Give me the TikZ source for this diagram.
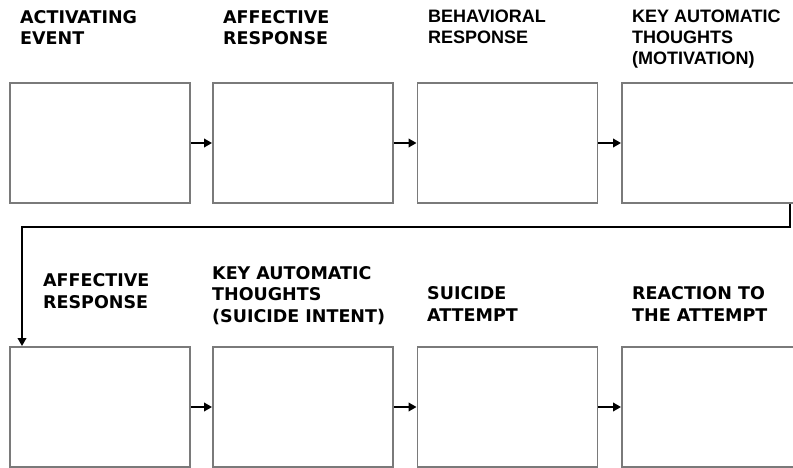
\documentclass[tikz,border=0pt]{standalone}
\usepackage{fontspec}
\newfontfamily\dejavu{DejaVu Sans}
\newfontfamily\libsans{Liberation Sans}
\usetikzlibrary{arrows.meta}
\begin{document}
\begin{tikzpicture}[x=1pt,y=-1pt,
  stagebox/.style={draw=black!52, line width=1.9pt, minimum width=180pt, minimum height=120pt, inner sep=0pt, fill=white},
  arr/.style={line width=2.6pt, -{Triangle[length=8pt,width=8.5pt]}},
  lbl/.style={anchor=base west, align=left, inner sep=0pt},
  tfont/.style={font=\dejavu\bfseries\fontsize{17.5}{21.5}\selectfont},
  afont/.style={font=\libsans\bfseries\fontsize{18}{21}\selectfont}]
\useasboundingbox[fill=white] (0,0) rectangle (793,468);
% top row boxes
\node[stagebox] (b1) at (100,143) {};
\node[stagebox] (b2) at (303,143) {};
\node[stagebox] (b3) at (507.5,143) {};
\node[stagebox] (b4) at (712,143) {};
% bottom row boxes
\node[stagebox] (b5) at (100,407) {};
\node[stagebox] (b6) at (303,407) {};
\node[stagebox] (b7) at (507.5,407) {};
\node[stagebox] (b8) at (712,407) {};
% labels (anchored at the baseline of the last line)
\node[lbl,tfont] (l1) at (20,45) {ACTIVATING\\EVENT};
\node[lbl,tfont] (l2) at (223,45) {AFFECTIVE\\RESPONSE};
\node[lbl,afont] (l3) at (428,44) {BEHAVIORAL\\RESPONSE};
\node[lbl,afont] (l4) at (632,65) {KEY AUTOMATIC\\THOUGHTS\\(MOTIVATION)};
\node[lbl,tfont] (l5) at (43,308) {AFFECTIVE\\RESPONSE};
\node[lbl,tfont] (l6) at (212,322) {KEY AUTOMATIC\\THOUGHTS\\(SUICIDE INTENT)};
\node[lbl,tfont] (l7) at (427,321) {SUICIDE\\ATTEMPT};
\node[lbl,tfont] (l8) at (632,321) {REACTION TO\\THE ATTEMPT};
% arrows
\draw[arr] (b1.east) -- (b2.west);
\draw[arr] (b2.east) -- (b3.west);
\draw[arr] (b3.east) -- (b4.west);
\draw[arr] (b5.east) -- (b6.west);
\draw[arr] (b6.east) -- (b7.west);
\draw[arr] (b7.east) -- (b8.west);
% return connector
\coordinate (c1) at (790,227);
\coordinate (c2) at (22,227);
\draw[arr, line join=miter] (b4.south -| c1) -- (c1) -- (c2) -- (c2 |- b5.north);
\end{tikzpicture}
\end{document}
